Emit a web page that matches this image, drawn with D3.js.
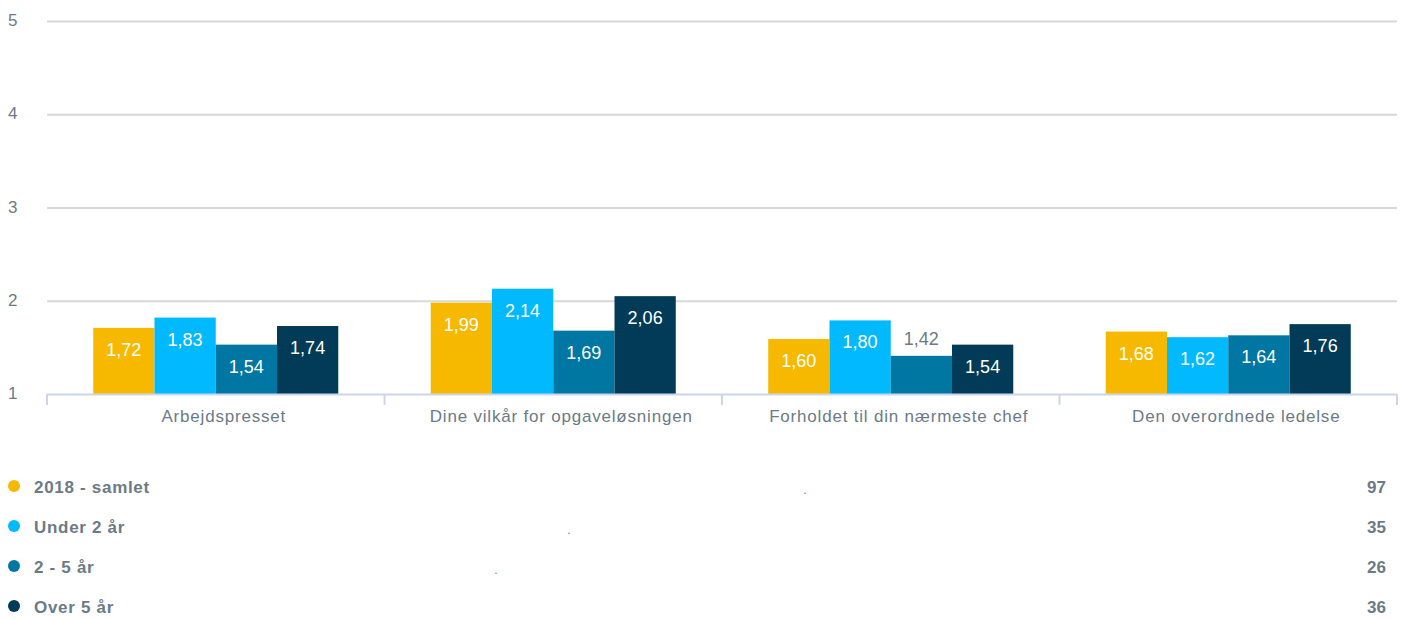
<!DOCTYPE html>
<html><head><meta charset="utf-8">
<script src="https://cdn.jsdelivr.net/npm/d3@7"></script>
<style>body{margin:0;background:#fff;font-family:"Liberation Sans",Arial,sans-serif;}</style>
</head><body><svg id="c" width="1404" height="619"></svg>
<script>
const categories = ["Arbejdspresset","Dine vilkår for opgaveløsningen","Forholdet til din nærmeste chef","Den overordnede ledelse"];
const seriesNames = ["2018 - samlet","Under 2 år","2 - 5 år","Over 5 år"];
const seriesCounts = [97,35,26,36];
const s2018 = [1.72,1.99,1.60,1.68];
const sUnder2 = [1.83,2.14,1.80,1.62];
const s2to5 = [1.54,1.69,1.42,1.64];
const sOver5 = [1.74,2.06,1.54,1.76];
const yTicks = [1,2,3,4,5];
const colors = ["#f7b900","#00b9ff","#0077a3","#023b57"];
const seriesValues = [s2018,sUnder2,s2to5,sOver5];

const svg = d3.select("#c");
const L=47,R=1397,T=21,B=394;
const y = d3.scaleLinear().domain([1,5]).range([B,T]);
const x0 = d3.scaleBand().domain(categories).range([L,R]).paddingInner(0).paddingOuter(0);
const groupPad = 0.137;
const x1 = d3.scaleBand().domain(d3.range(4)).range([x0.bandwidth()*groupPad, x0.bandwidth()*(1-groupPad)]);

// grid
svg.append("g").selectAll("line").data(yTicks.filter(d=>d>1)).join("line")
  .attr("x1",L).attr("x2",R).attr("y1",d=>y(d)+0.5).attr("y2",d=>y(d)+0.5)
  .attr("stroke","#d8d8d8").attr("stroke-width",2);
svg.append("g").selectAll("text").data(yTicks).join("text")
  .attr("x",8).attr("y",d=>y(d)+5).text(d=>d)
  .attr("font-size",17).attr("fill","#6b7b86");

// bars
const fmt = v=>v.toFixed(2).replace(".",",");
categories.forEach((c,ci)=>{
  const g = svg.append("g").attr("transform",`translate(${x0(c)},0)`);
  seriesValues.forEach((arr,si)=>{
    const v=arr[ci];
    const top=y(v)+1, h=B-top;
    g.append("rect").attr("x",x1(si)).attr("y",top).attr("width",x1.bandwidth()).attr("height",h).attr("fill",colors[si]);
    const inside = h>45;
    g.append("text").attr("x",x1(si)+x1.bandwidth()/2).attr("y",inside?top+28:top-11)
      .attr("text-anchor","middle").attr("font-size",18)
      .attr("fill",inside?"#fff":"#6b7b86").text(fmt(v));
  });
});

// x axis
svg.append("line").attr("x1",L).attr("x2",R).attr("y1",B+0.5).attr("y2",B+0.5).attr("stroke","#ccd6eb").attr("stroke-width",2);
const bounds = categories.map(c=>x0(c)).concat([R]);
svg.append("g").selectAll("line").data(bounds).join("line")
  .attr("x1",d=>d).attr("x2",d=>d).attr("y1",B).attr("y2",B+11).attr("stroke","#ccd6eb").attr("stroke-width",2);
svg.append("g").selectAll("text").data(categories).join("text")
  .attr("x",d=>x0(d)+x0.bandwidth()/2+8).attr("y",422).attr("text-anchor","middle")
  .attr("font-size",17).attr("letter-spacing","0.8px").attr("fill","#6b7b86").text(d=>d);

// legend
const ly = d3.scaleLinear().domain([0,3]).range([486,606]);
const dotX = [805,569,496,null];
const lg = svg.append("g").selectAll("g").data(seriesNames).join("g");
lg.append("circle").attr("cx",14).attr("cy",(d,i)=>ly(i)).attr("r",6).attr("fill",(d,i)=>colors[i]);
lg.append("text").attr("x",34).attr("y",(d,i)=>ly(i)+7).attr("font-size",17).attr("font-weight","bold").attr("letter-spacing","0.7px")
  .attr("fill","#6b7b86").text(d=>d);
lg.append("text").attr("x",1386).attr("y",(d,i)=>ly(i)+7).attr("text-anchor","end").attr("font-size",17).attr("font-weight","bold")
  .attr("fill","#6b7b86").text((d,i)=>seriesCounts[i]);
lg.filter((d,i)=>dotX[i]!=null).append("text").attr("x",(d,i)=>dotX[i]).attr("y",(d,i)=>ly(i)+8)
  .attr("font-size",12).attr("fill","#6b7b86").attr("text-anchor","middle").text(".");
</script></body></html>
